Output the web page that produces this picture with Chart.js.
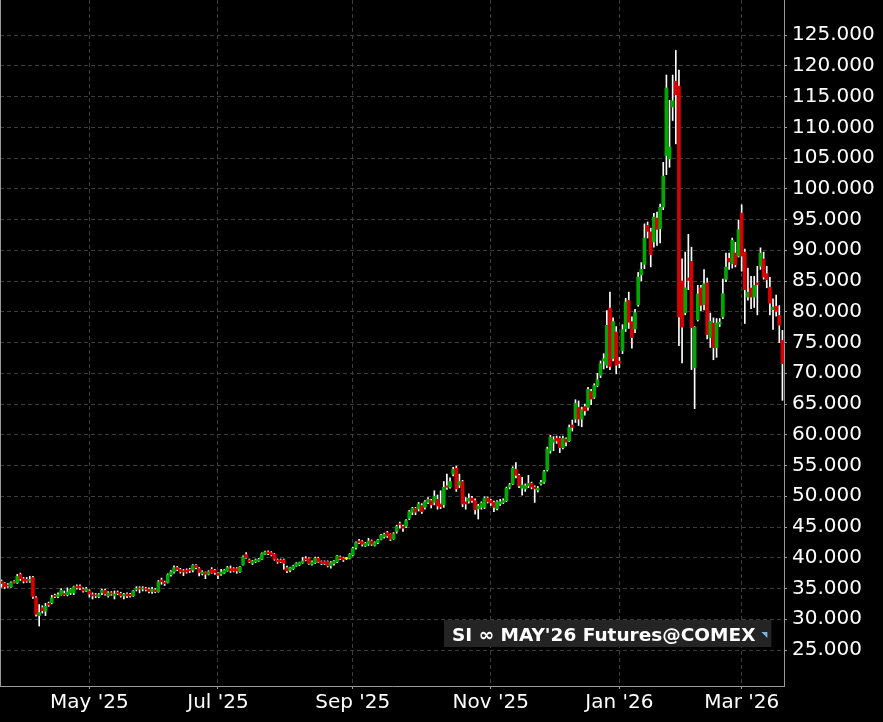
<!DOCTYPE html>
<html>
<head>
<meta charset="utf-8">
<script src="https://cdn.jsdelivr.net/npm/chart.js@4.4.0/dist/chart.umd.min.js"></script>
<style>
  html, body { margin: 0; padding: 0; background: #000; }
  #wrap { width: 883px; height: 722px; }
</style>
</head>
<body>
<div id="wrap"><canvas id="chart" width="883" height="722"></canvas></div>
<script>
// SI May'26 futures, daily candles, 21 Mar 2025 .. 19 Mar 2026
const firstDay = '2025-03-21';
const holidays = ['2025-04-18', '2025-05-26', '2025-06-19', '2025-07-04', '2025-09-01',
  '2025-11-27', '2025-12-25', '2026-01-01', '2026-01-19', '2026-02-16'];

const opens = [
  36.2, 35.9, 35.6, 35.3, 36.1, 35.9, 37.3, 36.6, 36.5, 36.2,
  36.8, 33.5, 30.6, 31.9, 31.3, 32.6, 32.7, 33.9, 33.7, 34.0,
  34.2, 34.0, 34.3, 34.3, 35.4, 35.4, 34.9, 34.6, 34.6, 34.0,
  33.95, 33.7, 34.3, 34.7, 33.8, 34.3, 33.8, 34.4, 34.2, 33.8,
  34.1, 34.05, 33.8, 34.8, 35.1, 34.9, 35.0, 34.9, 34.5, 34.8,
  34.5, 36.4, 36.0, 36.0, 37.25, 37.7, 38.4, 38.1, 37.9, 38.0,
  38.1, 37.97, 38.78, 38.24, 37.4, 37.6, 37.32, 38.13, 37.97, 37.48,
  37.32, 37.5, 37.86, 38.24, 38.24, 38.24, 37.75, 38.9, 40.52, 39.65,
  39.1, 39.32, 39.48, 39.76, 40.57, 40.95, 40.84, 40.57, 39.65, 39.65,
  39.65, 38.4, 37.97, 38.24, 38.67, 38.84, 39.21, 39.86, 39.86, 38.94,
  39.21, 39.92, 39.38, 39.38, 39.38, 38.67, 39.05, 39.32, 40.14, 39.97,
  39.86, 39.92, 40.46, 41.65, 42.74, 42.63, 41.92, 42.2, 42.74, 42.03,
  42.47, 43.0, 43.39, 44.09, 43.82, 43.1, 44.3, 45.5, 45.1, 45.1,
  46.4, 47.4, 48.05, 47.95, 48.5, 48.2, 49.0, 49.3, 49.0, 49.5,
  48.75, 48.6, 51.7, 51.5, 53.6, 54.55, 51.8, 52.4, 49.1, 49.2,
  49.7, 49.3, 47.95, 48.2, 48.2, 49.7, 49.3, 49.0, 48.0, 48.75,
  49.0, 49.3, 51.5, 52.0, 54.4, 53.4, 51.3, 51.2, 51.7, 52.1,
  51.5, 51.0, 52.0, 52.3, 54.3, 57.4, 58.8, 59.45, 59.45, 57.9,
  59.3, 59.0, 61.6, 62.55, 64.45, 62.55, 64.6, 64.45, 67.05, 66.1,
  68.0, 69.65, 72.0, 71.3, 80.6, 72.4, 76.7, 72.0, 73.7, 77.2,
  81.85, 78.4, 77.2, 81.15, 86.0, 87.7, 94.05, 93.0, 91.35, 95.24,
  93.5, 97.03, 105.4, 104.9, 113.3, 117.5, 116.7, 85.0, 79.85, 85.5,
  88.2, 70.9, 78.7, 83.9, 81.15, 84.7, 75.8, 78.17, 74.16, 78.0,
  79.15, 85.27, 88.7, 87.8, 89.55, 89.06, 96.05, 89.7, 82.4, 83.86,
  82.4, 84.7, 87.4, 88.6, 86.2, 84.0, 80.34, 80.9, 79.4, 75.35
];
const highs = [
  36.4, 36.0, 35.8, 36.1, 36.3, 37.3, 37.5, 36.8, 36.8, 37.0,
  37.0, 33.7, 32.4, 32.2, 32.6, 32.8, 33.9, 34.1, 34.3, 35.0,
  34.6, 35.1, 35.0, 35.4, 35.6, 35.6, 35.1, 35.2, 34.8, 34.3,
  34.2, 34.2, 34.9, 34.9, 34.5, 34.5, 34.6, 34.6, 34.4, 34.2,
  34.3, 34.2, 34.7, 35.3, 35.3, 35.3, 35.2, 35.1, 35.2, 35.0,
  36.3, 36.7, 36.2, 37.4, 37.9, 38.7, 38.6, 38.3, 38.1, 38.2,
  38.3, 38.9, 38.9, 38.4, 37.9, 37.7, 37.9, 38.4, 38.13, 37.6,
  38.13, 38.1, 38.6, 38.67, 38.4, 38.4, 38.6, 40.3, 40.84, 39.8,
  39.6, 39.8, 39.9, 40.8, 41.1, 41.11, 41.0, 40.7, 39.8, 39.8,
  39.8, 38.67, 38.5, 38.8, 39.2, 39.3, 40.03, 40.19, 40.0, 39.5,
  40.1, 40.1, 39.5, 39.5, 39.5, 39.4, 39.6, 40.4, 40.3, 40.1,
  40.0, 40.7, 41.7, 42.6, 43.0, 42.8, 42.5, 43.17, 42.9, 42.6,
  43.0, 43.8, 44.0, 44.3, 43.9, 44.1, 45.3, 45.8, 45.3, 46.2,
  47.7, 48.2, 48.2, 49.0, 48.8, 49.3, 49.8, 49.5, 50.9, 50.2,
  50.9, 52.4, 53.6, 53.0, 54.7, 54.9, 53.6, 52.6, 49.8, 50.4,
  50.0, 49.6, 48.7, 49.1, 49.9, 49.9, 49.5, 49.2, 49.3, 49.5,
  49.6, 51.5, 52.1, 54.8, 55.5, 53.6, 53.1, 52.0, 53.4, 52.3,
  51.7, 51.6, 52.6, 54.2, 58.0, 59.9, 59.7, 59.8, 59.7, 59.8,
  59.5, 61.6, 62.4, 65.7, 65.5, 64.5, 65.0, 67.7, 67.4, 68.3,
  70.0, 72.0, 73.2, 80.2, 83.2, 79.0, 77.6, 72.6, 77.9, 82.2,
  83.2, 79.2, 80.4, 86.4, 88.0, 94.3, 94.6, 93.6, 96.0, 96.2,
  97.5, 104.3, 118.5, 114.4, 118.5, 122.5, 119.3, 88.6, 89.7, 92.6,
  90.5, 77.6, 84.3, 84.3, 86.85, 85.5, 79.8, 79.0, 78.9, 78.9,
  85.3, 89.55, 89.55, 91.99, 91.3, 94.9, 97.4, 90.2, 87.1, 85.76,
  85.76, 87.4, 90.4, 89.7, 87.4, 85.6, 82.1, 82.7, 81.0, 76.98
];
const lows = [
  35.2, 35.0, 35.2, 35.2, 35.9, 35.8, 36.3, 35.9, 36.0, 36.0,
  33.4, 30.5, 28.9, 31.0, 30.6, 32.1, 32.5, 33.5, 33.5, 33.9,
  33.9, 33.8, 34.0, 34.0, 34.9, 34.8, 34.4, 34.5, 33.6, 33.3,
  33.5, 33.5, 34.0, 33.9, 33.6, 33.9, 33.3, 34.0, 33.6, 33.3,
  33.5, 33.6, 33.7, 34.6, 34.3, 34.6, 34.6, 34.3, 34.2, 34.3,
  34.4, 35.7, 35.5, 35.9, 37.0, 37.5, 37.9, 37.5, 37.1, 37.5,
  37.6, 37.7, 38.2, 37.05, 37.2, 36.6, 37.2, 37.5, 37.3, 36.6,
  37.15, 37.4, 37.8, 37.6, 37.7, 37.48, 37.6, 38.8, 39.9, 39.2,
  38.9, 39.2, 39.4, 39.7, 40.5, 40.5, 40.3, 39.6, 39.1, 39.2,
  38.13, 37.59, 37.7, 38.1, 38.6, 38.7, 39.1, 39.5, 38.9, 38.8,
  39.1, 39.2, 38.9, 38.9, 38.5, 38.3, 38.8, 39.2, 39.7, 39.4,
  39.7, 39.8, 40.3, 41.4, 42.3, 41.9, 41.8, 42.0, 42.0, 41.9,
  42.3, 42.9, 43.2, 43.3, 42.8, 43.0, 44.0, 44.8, 44.3, 44.9,
  46.2, 47.0, 47.0, 47.6, 47.2, 47.9, 48.8, 48.1, 48.6, 47.9,
  48.0, 48.2, 51.1, 51.3, 53.3, 50.8, 51.4, 48.3, 47.9, 48.9,
  49.0, 47.1, 46.3, 47.9, 48.0, 48.9, 48.5, 47.5, 47.8, 48.5,
  48.8, 49.1, 51.2, 51.9, 53.0, 51.4, 50.2, 50.8, 51.4, 51.2,
  49.0, 50.7, 51.8, 52.1, 54.1, 57.0, 57.4, 58.6, 57.1, 57.7,
  58.2, 58.9, 60.6, 62.0, 61.5, 61.3, 63.2, 64.0, 64.9, 65.9,
  67.8, 69.3, 70.7, 70.9, 70.6, 72.0, 69.9, 70.9, 73.2, 76.8,
  77.3, 74.1, 76.6, 80.9, 85.0, 87.0, 92.0, 87.3, 90.5, 90.8,
  91.2, 96.6, 102.3, 103.5, 111.1, 107.3, 74.5, 71.7, 79.5, 83.6,
  70.6, 64.25, 78.5, 80.2, 80.3, 75.6, 74.2, 72.2, 72.6, 77.6,
  78.9, 84.9, 86.9, 87.1, 87.3, 88.9, 86.6, 78.1, 81.9, 80.5,
  80.7, 79.5, 86.9, 85.3, 83.9, 79.5, 77.14, 79.3, 74.97, 65.6
];
const closes = [
  35.8, 35.3, 35.4, 35.95, 36.0, 37.0, 36.6, 36.2, 36.2, 36.5,
  33.7, 30.8, 31.1, 31.4, 32.1, 32.3, 33.5, 33.7, 34.0, 34.7,
  34.0, 34.45, 34.86, 35.3, 35.1, 35.1, 34.6, 34.97, 34.1, 33.8,
  33.8, 34.0, 34.7, 34.1, 34.3, 34.1, 34.1, 34.2, 33.8, 34.05,
  33.8, 33.8, 34.6, 35.0, 34.9, 35.1, 34.8, 34.5, 34.9, 34.5,
  36.1, 36.1, 35.8, 37.25, 37.7, 38.4, 38.1, 37.7, 37.7, 37.7,
  37.9, 38.78, 38.4, 37.6, 37.7, 37.32, 37.75, 37.59, 37.59, 37.15,
  37.7, 37.97, 38.4, 37.86, 37.86, 37.86, 38.51, 40.14, 40.03, 39.32,
  39.48, 39.65, 39.76, 40.68, 40.95, 40.68, 40.46, 39.76, 39.32, 39.32,
  39.1, 37.86, 38.4, 38.67, 39.05, 39.21, 39.48, 39.65, 39.05, 39.32,
  39.92, 39.32, 39.05, 39.05, 38.67, 39.21, 39.48, 40.3, 39.86, 39.65,
  39.86, 40.57, 41.54, 42.47, 42.47, 42.2, 42.36, 42.74, 42.2, 42.47,
  42.9, 43.66, 43.82, 43.55, 43.0, 43.9, 45.1, 45.4, 44.8, 46.05,
  47.5, 48.05, 47.4, 48.75, 47.5, 49.1, 49.5, 48.6, 50.0, 48.4,
  48.3, 51.46, 51.46, 52.4, 54.4, 51.2, 52.4, 48.75, 48.75, 49.7,
  49.3, 47.8, 48.4, 48.9, 49.7, 49.1, 48.9, 48.2, 49.1, 49.1,
  49.3, 51.3, 51.85, 54.55, 53.4, 51.7, 51.85, 51.7, 52.1, 51.5,
  51.2, 51.3, 52.3, 54.0, 57.7, 59.6, 59.2, 59.0, 57.9, 59.45,
  58.8, 61.2, 61.2, 65.1, 62.55, 64.1, 63.9, 67.4, 65.8, 68.0,
  68.95, 71.55, 72.35, 77.8, 71.1, 78.4, 71.3, 71.6, 77.1, 81.6,
  78.3, 75.8, 79.85, 85.65, 86.9, 92.0, 93.07, 89.3, 95.4, 93.4,
  97.0, 102.07, 116.4, 106.8, 114.3, 115.3, 79.15, 77.5, 83.9, 85.1,
  77.4, 77.5, 82.9, 81.05, 84.56, 76.3, 78.45, 74.16, 78.17, 78.3,
  82.94, 87.27, 88.1, 91.6, 87.65, 93.35, 89.06, 83.6, 83.2, 82.4,
  84.3, 84.45, 89.55, 85.65, 85.2, 81.4, 80.77, 80.07, 77.8, 71.56
];

const monthLabels = ["May '25", "Jul '25", "Sep '25", "Nov '25", "Jan '26", "Mar '26"];
const monthKeys = ['2025-05', '2025-07', '2025-09', '2025-11', '2026-01', '2026-03'];
const yTicks = [25, 30, 35, 40, 45, 50, 55, 60, 65, 70, 75, 80, 85, 90, 95, 100, 105, 110, 115, 120, 125];
const legendText = "SI \u221E MAY'26 Futures@COMEX";

// trading days (weekdays minus exchange holidays)
function tradingDays(start, count) {
  const out = [];
  const d = new Date(start + 'T00:00:00Z');
  while (out.length < count) {
    const iso = d.toISOString().slice(0, 10);
    const wd = d.getUTCDay();
    if (wd !== 0 && wd !== 6 && !holidays.includes(iso)) out.push(iso);
    d.setUTCDate(d.getUTCDate() + 1);
  }
  return out;
}
const dates = tradingDays(firstDay, closes.length);
const monthIdx = monthKeys.map(k => dates.findIndex(d => d.startsWith(k)));

const UP = '#00a800', DOWN = '#d80000', FLAT = '#ffff00';
const wickData = lows.map((l, i) => [l, highs[i]]);
const bodyData = opens.map((o, i) => [o, closes[i]]);
const bodyColors = opens.map((o, i) => closes[i] > o ? UP : (closes[i] < o ? DOWN : FLAT));

const FONT = 'DejaVu Sans';
const GRID = '#3c3c3c';
const AXIS = '#9a9a9a';

const framePlugin = {
  id: 'frame',
  beforeDraw(chart) {
    const c = chart.ctx;
    c.save();
    c.fillStyle = '#000';
    c.fillRect(0, 0, chart.width, chart.height);
    c.restore();
  },
  afterDraw(chart) {
    const c = chart.ctx;
    const a = chart.chartArea;
    c.save();
    // left edge of the plot
    c.strokeStyle = AXIS;
    c.lineWidth = 1;
    c.beginPath();
    c.moveTo(a.left + 0.5, a.top);
    c.lineTo(a.left + 0.5, a.bottom);
    c.stroke();
    // series label box
    c.font = 'bold 18.5px "' + FONT + '"';
    const tw = c.measureText(legendText).width;
    const bx = 444, by = 620, bh = 27;
    const bw = tw + 24;
    c.fillStyle = '#242424';
    c.fillRect(bx, by, bw, bh);
    c.fillStyle = '#ffffff';
    c.textBaseline = 'alphabetic';
    c.fillText(legendText, bx + 8, by + 21);
    // small arrow marker after the text
    const mx = bx + 8 + tw + 6, my = by + 14;
    c.fillStyle = '#7fb2e5';
    c.beginPath();
    c.moveTo(mx, my - 2);
    c.lineTo(mx + 6, my - 2);
    c.lineTo(mx + 6, my + 4);
    c.closePath();
    c.fill();
    c.restore();
  }
};

const noPad = s => { s.paddingTop = 0; s.paddingBottom = 0; s.paddingLeft = 0; s.paddingRight = 0; };

const ctx = document.getElementById('chart').getContext('2d');
new Chart(ctx, {
  type: 'bar',
  data: {
    labels: dates,
    datasets: [
      { label: 'wick', data: wickData, backgroundColor: '#ffffff', barThickness: 1, grouped: false, order: 2 },
      { label: 'body', data: bodyData, backgroundColor: bodyColors, barThickness: 3, grouped: false, order: 1, minBarLength: 1 }
    ]
  },
  options: {
    responsive: false,
    animation: false,
    layout: { padding: 0 },
    plugins: { legend: { display: false }, tooltip: { enabled: false } },
    scales: {
      x: {
        offset: true,
        grid: { offset: false, color: GRID, tickColor: AXIS, tickLength: 3, lineWidth: 1 },
        border: { color: AXIS, width: 1, dash: [4, 3] },
        afterBuildTicks: s => { s.ticks = monthIdx.map(v => ({ value: v })); },
        ticks: {
          autoSkip: false, maxRotation: 0, minRotation: 0, padding: 2,
          color: '#ffffff', font: { family: FONT, size: 20 },
          callback: v => monthLabels[monthIdx.indexOf(v)]
        },
        afterFit: s => { s.height = 36; noPad(s); }
      },
      y: {
        position: 'right',
        min: 19.15,
        max: 130.7,
        grid: { color: GRID, tickColor: AXIS, tickLength: 3, lineWidth: 1 },
        border: { color: AXIS, width: 1, dash: [4, 3] },
        afterBuildTicks: s => { s.ticks = yTicks.map(v => ({ value: v })); },
        ticks: {
          padding: 5, color: '#ffffff', font: { family: FONT, size: 20 },
          callback: v => v.toFixed(3)
        },
        afterFit: s => { s.width = 99; noPad(s); }
      }
    }
  },
  plugins: [framePlugin]
});
</script>
</body>
</html>
